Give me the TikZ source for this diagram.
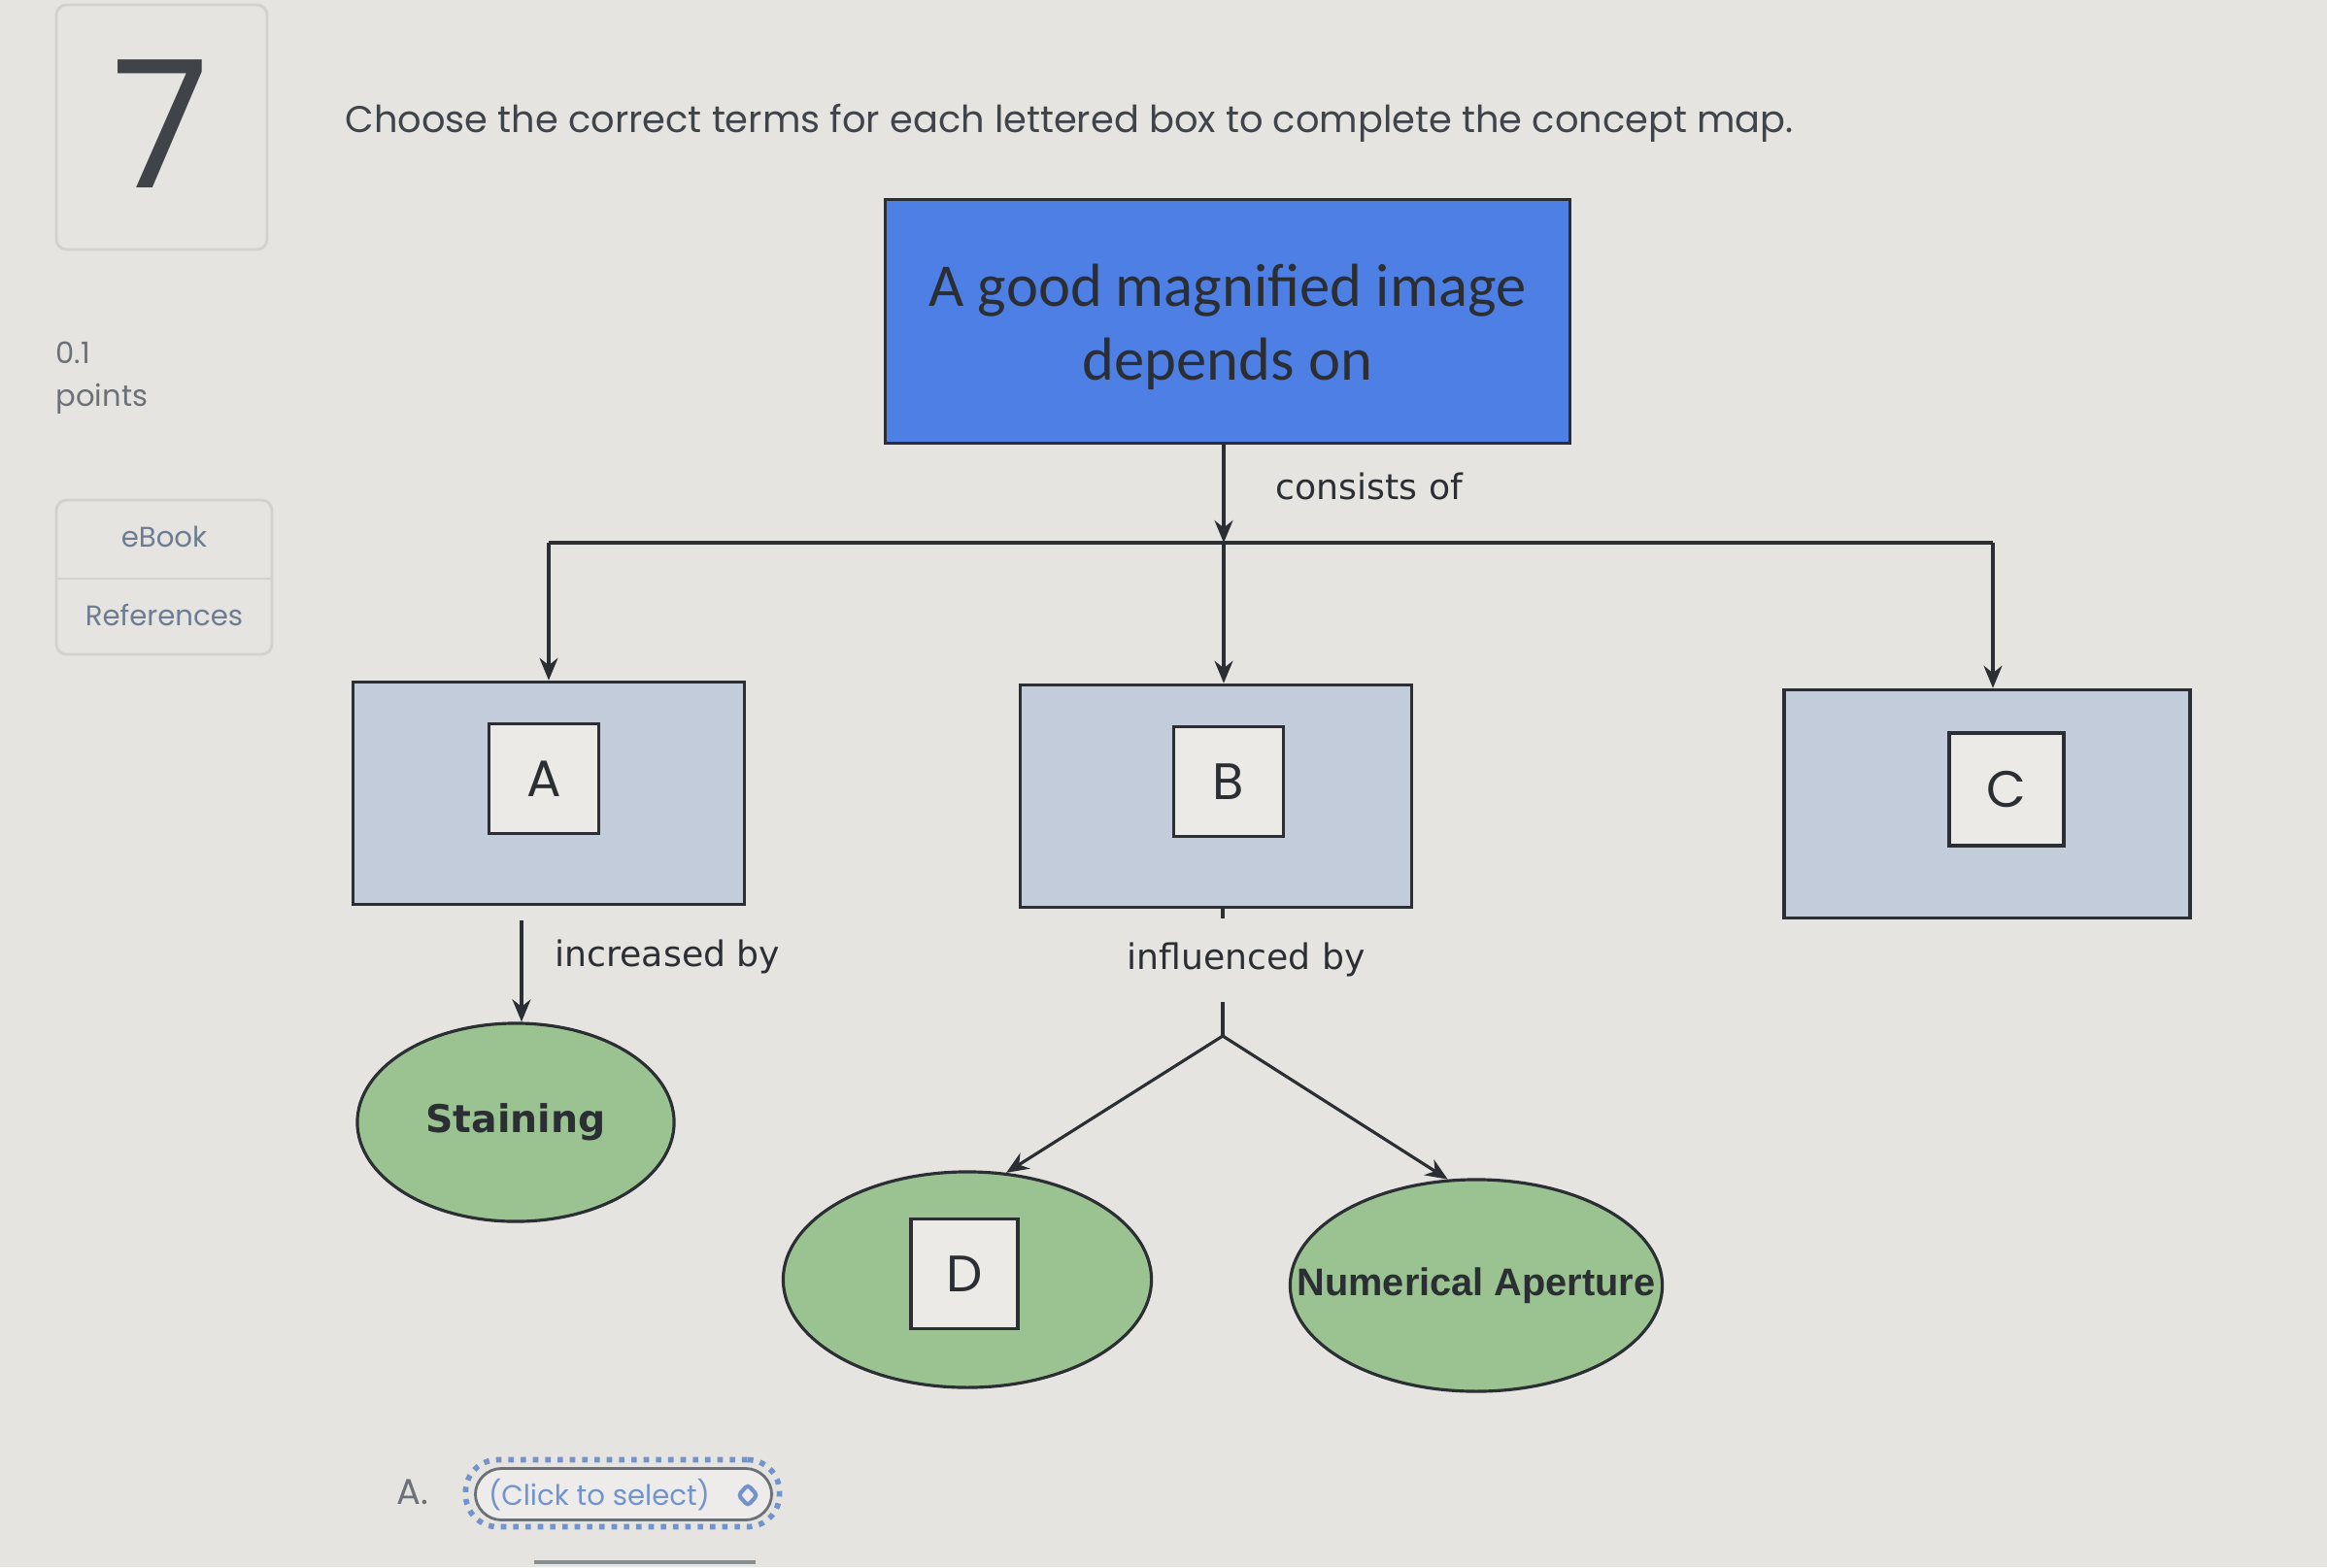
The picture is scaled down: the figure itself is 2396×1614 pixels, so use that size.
\documentclass[tikz,border=0pt]{standalone}
\usepackage{fontspec}
\setmainfont{Poppins}
\newfontfamily\boxfont{Carlito}
\newfontfamily\linkfont{DejaVu Sans}
\newfontfamily\termfont{Liberation Sans}
\usetikzlibrary{arrows.meta, positioning, shapes.geometric, calc}
\definecolor{pageGray}{HTML}{E6E4E1}
\definecolor{panelEdge}{HTML}{D3D1CE}
\definecolor{inkDark}{HTML}{2B2F34}
\definecolor{uiText}{HTML}{3F444A}
\definecolor{uiMuted}{HTML}{6C7178}
\definecolor{uiLink}{HTML}{6D7C90}
\definecolor{mapBlue}{HTML}{4D7FE4}
\definecolor{mapSlate}{HTML}{C3CCDA}
\definecolor{mapGreen}{HTML}{9BC392}
\definecolor{blankFill}{HTML}{ECEAE7}
\definecolor{pickBlue}{HTML}{7393CC}
\newcommand{\dropline}[1]{\raisebox{-0.06cm}[\height][\depth]{#1}}

\begin{document}
\begin{tikzpicture}[
  x=0.01cm, y=-0.01cm,
  >={Stealth[length=0.23cm, width=0.19cm]},
  panel/.style={draw=panelEdge, thick, rounded corners=3pt},
  uitext/.style={text=uiText, inner sep=0pt},
  rootbox/.style={draw=inkDark, line width=1pt, fill=mapBlue, align=center,
                  minimum width=7.05cm, minimum height=2.51cm, text=inkDark,
                  font=\boxfont\fontsize{17.8}{21.5}\selectfont},
  conceptbox/.style={draw=inkDark, line width=1pt, fill=mapSlate,
                     minimum width=4.03cm, minimum height=2.29cm},
  blank/.style={draw=inkDark, line width=0.9pt, fill=blankFill, inner sep=0pt,
                minimum width=1.13cm, minimum height=1.13cm, text=inkDark,
                font=\fontsize{15}{18}\selectfont},
  term/.style={draw=inkDark, line width=0.9pt, fill=mapGreen, ellipse, inner sep=0pt,
               text=inkDark},
  lbl/.style={text=inkDark, inner sep=0pt, font=\linkfont\fontsize{10.3}{12}\selectfont},
  line/.style={->, line width=0.9pt, draw=inkDark}
]

% page background
\fill[pageGray] (0,0) rectangle (2396,1614);
\useasboundingbox (0,0) rectangle (2396,1614);

% question side panel
\draw[panel] (58,5) rectangle (275,257);
\node[uitext, font=\fontsize{52}{52}\selectfont, text=inkDark!90] (qnum) at (165,128) {7};
\node[uitext, anchor=base west, text=uiMuted, font=\fontsize{8.7}{10}\selectfont] (score) at (57,374) {0.1};
\node[uitext, anchor=base west, text=uiMuted, font=\fontsize{8.7}{10}\selectfont] (pts) at (57,418) {points};
\draw[panel] (58,515) rectangle (280,674);
\draw[panelEdge, thick] (58,596) -- (280,596);
\node[uitext, text=uiLink, font=\fontsize{8.3}{10}\selectfont] (ebook) at (169,553) {eBook};
\node[uitext, text=uiLink, font=\fontsize{8.3}{10}\selectfont] (refs) at (169,633) {References};

\node[uitext, anchor=west, font=\fontsize{10.9}{13}\selectfont] (prompt) at (355,127)
  {Choose the correct terms for each lettered box to complete the concept map.};

% concept map
\node[rootbox] (root) at (1264,331) {\dropline{A good magnified image}\\\dropline{depends on}};
\coordinate (bar) at (1260,559);

\node[conceptbox] (boxA) at (565,817) {};
\node[conceptbox] (boxB) at (1252,820) {};
\node[conceptbox, minimum width=4.18cm, minimum height=2.35cm] (boxC) at (2046,828) {};
\node[blank] (blankA) at (560,802) {A};
\node[blank] (blankB) at (1265,805) {B};
\node[blank, minimum width=1.18cm, minimum height=1.16cm] (blankC) at (2066,813) {C};
\coordinate (cTop) at ($(boxC.north)+(6,0)$);

\node[term, minimum width=3.26cm, minimum height=2.04cm,
      font=\linkfont\bfseries\fontsize{11.2}{13}\selectfont] (stain) at (531,1156) {Staining};
\node[term, minimum width=3.79cm, minimum height=2.22cm] (termD) at (996,1318) {};
\node[blank, minimum width=1.10cm] (blankD) at (993,1312) {D};
\node[term, minimum width=3.83cm, minimum height=2.18cm,
      font=\termfont\bfseries\fontsize{11.3}{13}\selectfont] (aperture) at (1520,1324)
      {\makebox[0pt]{Numerical Aperture}};
\coordinate (fork) at (1259,1067);

\draw[line] (root.south -| bar) -- node[lbl, right=0.52cm, yshift=0.08cm]{consists of} (bar);
\draw[line, -] (bar -| boxA.north) -- (bar -| cTop);
\draw[line] (bar -| boxA.north) -- (boxA.north);
\draw[line] (bar) -- (bar |- boxB.north);
\draw[line] (bar -| cTop) -- (cTop);
\draw[line, shorten <=0.15cm] ($(boxA.south -| stain.north)+(6,0)$) -- node[lbl, right=0.33cm, yshift=0.07cm]{increased by} ($(stain.north)+(6,0)$);
\draw[line, -] (boxB.south -| fork) -- node[lbl, pos=0.4, fill=pageGray, xshift=0.24cm,
  minimum height=0.86cm, minimum width=2.7cm]{influenced by} (fork);
\draw[line] (fork) -- (termD.70);
\draw[line] (fork) -- (aperture.105);

% answer picker
\node[uitext, text=uiMuted, font=\fontsize{10.5}{12}\selectfont] (ansA) at (425,1537) {A.};
\node[draw=pickBlue, line width=1.6pt, dotted, rounded corners=0.33cm,
      minimum width=3.23cm, minimum height=0.69cm] (ring) at (641,1538) {};
\node[draw=uiMuted, line width=0.8pt, rounded corners=0.27cm, fill=pageGray!70!white,
      minimum width=3.05cm, minimum height=0.53cm] (pick) at (642,1539) {};
\node[uitext, text=pickBlue, font=\fontsize{8.3}{10}\selectfont] (picktext) at (617,1540) {(Click to select)};
\node[draw=pickBlue, line width=1.2pt, diamond, rounded corners=1pt, inner sep=0pt,
      minimum width=0.21cm, minimum height=0.23cm] (pickicon) at (770,1540) {};
\draw[uiMuted!80, line width=1.2pt] (550,1609) -- (778,1609);

\end{tikzpicture}
\end{document}
